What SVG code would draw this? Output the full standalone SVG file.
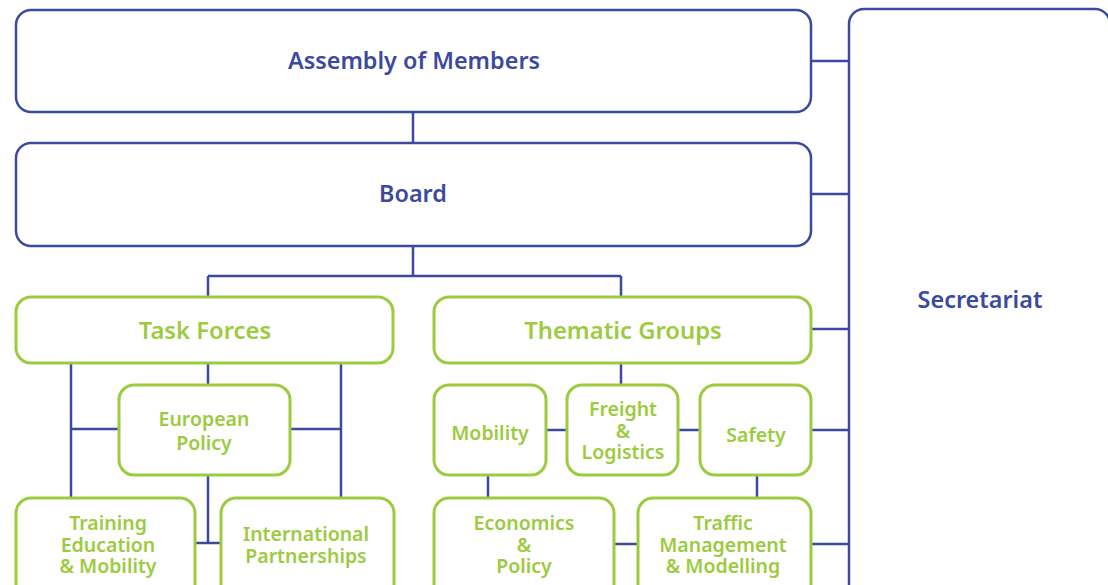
<svg xmlns="http://www.w3.org/2000/svg" width="1108" height="585" viewBox="0 0 1108 585">
<style>
.b{fill:#fff;stroke:#3c4a9e;stroke-width:2.5}
.g{fill:#fff;stroke:#9dcb3f;stroke-width:3}
.c{fill:none;stroke:#3c4a9e;stroke-width:2.5}
text{font-family:"Noto Sans","Open Sans",sans-serif;font-weight:600;text-anchor:middle}
.tb{fill:#3c4a9e;font-size:23.4px}
.tg{fill:#9dcb3f;font-size:23.8px}
.ts{fill:#9dcb3f;font-size:19.5px}
</style>
<rect width="1108" height="585" fill="#fff"/>
<g id="connectors">
<path class="c" d="M811 61H849M811 194H849M811 329H849M811 430H849M811 544H849"/>
<path class="c" d="M413 112V143M413 246V276M208 276H621M208 276V297M621 276V297"/>
<path class="c" d="M71 363V498M341 363V498M208 363V385M208 475V543M195 543H221M71 429H119M290 429H341"/>
<path class="c" d="M621 363V385M546 430H567M678 430H700M488 475V498M757 475V498M614 544H638"/>
</g>
<g id="secretariat"><rect class="b" x="849" y="9" width="261" height="600" rx="15"/><text class="tb" x="980" y="308">Secretariat</text></g>
<g id="assembly"><rect class="b" x="16" y="10" width="795" height="102" rx="15"/><text class="tb" x="414" y="69">Assembly of Members</text></g>
<g id="board"><rect class="b" x="16" y="143" width="795" height="103" rx="15"/><text class="tb" x="413" y="202">Board</text></g>
<g id="taskforces"><rect class="g" x="16" y="297" width="377" height="66" rx="15"/><text class="tg" x="205" y="339">Task Forces</text></g>
<g id="thematic"><rect class="g" x="434" y="297" width="377" height="66" rx="15"/><text class="tg" x="623" y="339">Thematic Groups</text></g>
<g id="european"><rect class="g" x="119" y="385" width="171" height="90" rx="15"/><text class="ts" x="204" y="426">European</text><text class="ts" x="204" y="450">Policy</text></g>
<g id="training"><rect class="g" x="16" y="498" width="179" height="110" rx="15"/><text class="ts" x="108" y="530">Training</text><text class="ts" x="108" y="552">Education</text><text class="ts" x="108" y="573">&amp; Mobility</text></g>
<g id="international"><rect class="g" x="221" y="498" width="173" height="110" rx="15"/><text class="ts" x="306" y="541">International</text><text class="ts" x="306" y="563">Partnerships</text></g>
<g id="mobility"><rect class="g" x="434" y="385" width="112" height="90" rx="15"/><text class="ts" x="490" y="440">Mobility</text></g>
<g id="freight"><rect class="g" x="567" y="385" width="111" height="90" rx="15"/><text class="ts" x="623" y="416">Freight</text><text class="ts" x="623" y="438">&amp;</text><text class="ts" x="623" y="459">Logistics</text></g>
<g id="safety"><rect class="g" x="700" y="385" width="111" height="90" rx="15"/><text class="ts" x="756" y="442">Safety</text></g>
<g id="economics"><rect class="g" x="434" y="498" width="180" height="110" rx="15"/><text class="ts" x="524" y="530">Economics</text><text class="ts" x="524" y="552">&amp;</text><text class="ts" x="524" y="573">Policy</text></g>
<g id="traffic"><rect class="g" x="638" y="498" width="173" height="110" rx="15"/><text class="ts" x="723" y="530">Traffic</text><text class="ts" x="723" y="552">Management</text><text class="ts" x="723" y="573">&amp; Modelling</text></g>
</svg>
